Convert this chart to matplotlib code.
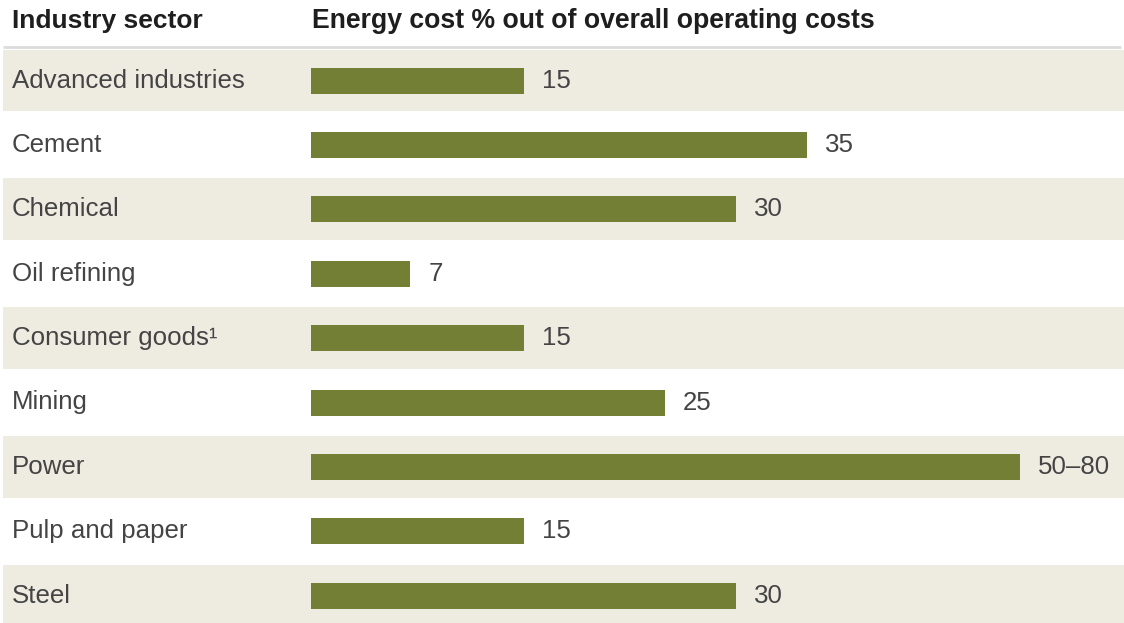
import matplotlib
matplotlib.use("Agg")
import matplotlib.pyplot as plt
import matplotlib.transforms as mtransforms

sectors = ["Advanced industries", "Cement", "Chemical", "Oil refining",
           "Consumer goods\u00b9", "Mining", "Power", "Pulp and paper", "Steel"]
values = [15, 35, 30, 7, 15, 25, 50, 15, 30]
value_labels = ["15", "35", "30", "7", "15", "25", "50\u201380", "15", "30"]
header_left = "Industry sector"
header_right = "Energy cost % out of overall operating costs"

W, H = 1124, 623
fig = plt.figure(figsize=(W / 100, H / 100), dpi=100)
ax = fig.add_axes([0, 0, 1, 1])
ax.set_axis_off()

px_per_unit = 14.17
x0_px = 311
row_px = 64.4
row0_center_px = 80.5

ax.set_xlim(-x0_px / px_per_unit, (W - x0_px) / px_per_unit)
top = -row0_center_px / row_px
ax.set_ylim(top + H / row_px, top)

beige = "#eeebe1"
bar_color = "#737f34"
text_color = "#444444"
font = "Liberation Sans"

blend = mtransforms.blended_transform_factory(ax.transAxes, ax.transData)

for i in range(len(sectors)):
    if i % 2 == 0:
        ax.fill_between([3 / W, 1], i - 0.5 + 0.02, i + 0.5 - 0.02,
                        color=beige, transform=blend, lw=0, zorder=0)

ax.barh(range(len(sectors)), values, height=26 / row_px, color=bar_color,
        zorder=2)

for i, (s, v, lab) in enumerate(zip(sectors, values, value_labels)):
    ax.text(12 / W, i, s, transform=blend, va="center", ha="left",
            fontsize=18.6, color=text_color, family=font)
    ax.text(v + 18 / px_per_unit, i, lab, va="center", ha="left",
            fontsize=18.6, color=text_color, family=font)

# header
hy = (21 - row0_center_px) / row_px
ax.text(12 / W, hy, header_left, transform=blend, va="center", ha="left",
        fontsize=19.0, fontweight="bold", color="#1e1e1e", family=font)
ax.text(312 / W, hy, header_right, transform=blend, va="center", ha="left",
        fontsize=19.2, fontweight="bold", color="#1e1e1e", family=font)

line_y = (46.5 - row0_center_px) / row_px
ax.plot([3 / W, 1121 / W], [line_y, line_y], transform=blend,
        color="#dcdcdc", lw=2, zorder=3, solid_capstyle="butt")

fig.savefig("out.png", dpi=100, facecolor="white")
